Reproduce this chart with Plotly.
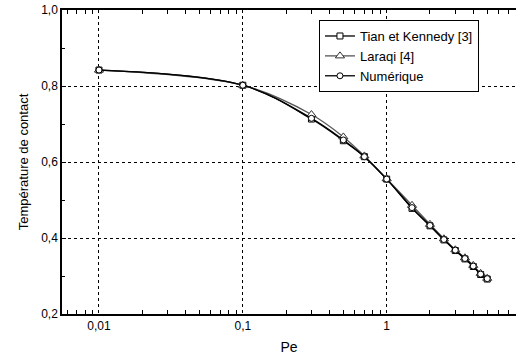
import numpy as np
import plotly.graph_objects as go

pe = [0.01, 0.1, 0.3, 0.5, 0.7, 1, 1.5, 2, 2.5, 3, 3.5, 4, 4.5, 5]
tian = [0.842, 0.802, 0.713, 0.656, 0.614, 0.555, 0.478, 0.432, 0.395, 0.367, 0.345, 0.325, 0.304, 0.292]
laraqi = [0.842, 0.802, 0.725, 0.666, 0.616, 0.556, 0.486, 0.436, 0.398, 0.369, 0.348, 0.328, 0.307, 0.294]
numerique = [0.842, 0.802, 0.715, 0.658, 0.614, 0.555, 0.480, 0.433, 0.396, 0.368, 0.346, 0.326, 0.305, 0.293]

x_tickvals = [0.01, 0.1, 1]
x_ticktext = ["0,01", "0,1", "1"]
y_tickvals = [0.2, 0.4, 0.6, 0.8, 1.0]
y_ticktext = ["0,2", "0,4", "0,6", "0,8", "1,0"]

fig = go.Figure()
fig.add_trace(go.Scatter(x=pe, y=tian, name="Tian et Kennedy [3]", mode="lines+markers",
                         line=dict(color="black", width=1.3, shape="spline"),
                         marker=dict(symbol="square", size=6, color="white", line=dict(width=1, color="black"))))
fig.add_trace(go.Scatter(x=pe, y=laraqi, name="Laraqi [4]", mode="lines+markers",
                         line=dict(color="#555555", width=1.3, shape="spline"),
                         marker=dict(symbol="triangle-up", size=8, color="white", line=dict(width=1, color="#333333"))))
fig.add_trace(go.Scatter(x=pe, y=numerique, name="Numérique", mode="lines+markers",
                         line=dict(color="black", width=1.3, shape="spline"),
                         marker=dict(symbol="circle", size=6, color="white", line=dict(width=1, color="black"))))

font = "Liberation Sans, Arial, sans-serif"
fig.update_layout(
    width=516, height=361,
    margin=dict(l=62, r=0, t=10, b=47),
    plot_bgcolor="white", paper_bgcolor="white",
    font=dict(family=font, color="black", size=12),
    showlegend=True,
    legend=dict(x=0.566, y=0.967, xanchor="left", yanchor="top",
                bordercolor="black", borderwidth=1, bgcolor="white",
                font=dict(size=13, family=font), tracegroupgap=0,
                itemwidth=30),
    xaxis=dict(type="log", range=[-2.257, 0.899], automargin=False,
               tickvals=x_tickvals, ticktext=x_ticktext,
               ticks="", showline=True, linecolor="black", linewidth=1.5,
               mirror="allticks",
               showgrid=True, gridcolor="black", griddash="dot", gridwidth=1,
               minor=dict(ticks="inside", ticklen=4, tickcolor="black", showgrid=False,
                          tickvals=[0.006, 0.007, 0.008, 0.009, 0.02, 0.03, 0.04, 0.05, 0.06, 0.07, 0.08, 0.09,
                                    0.2, 0.3, 0.4, 0.5, 0.6, 0.7, 0.8, 0.9, 2, 3, 4, 5, 6, 7]),
               title=dict(text="Pe", font=dict(size=14), standoff=10),
               tickfont=dict(size=12),
               zeroline=False),
    yaxis=dict(range=[0.2, 1.0], tickvals=y_tickvals, ticktext=y_ticktext, automargin=False,
               ticks="inside", ticklen=4, tickcolor="black",
               showline=True, linecolor="black", linewidth=1.5, mirror=False,
               showgrid=True, gridcolor="black", griddash="dot", gridwidth=1,
               minor=dict(ticks="inside", ticklen=3, tickcolor="black", dtick=0.1, showgrid=False),
               title=dict(text="Température de contact", font=dict(size=13), standoff=10),
               tickfont=dict(size=12),
               zeroline=False),
)
fig.write_html("out.html", config={"displayModeBar": False})
